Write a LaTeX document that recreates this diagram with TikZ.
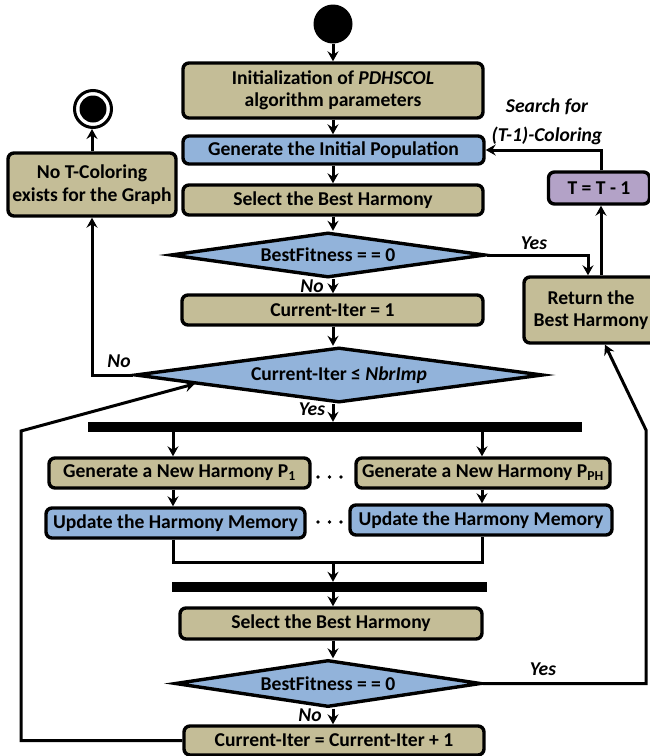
\documentclass[tikz,border=0pt]{standalone}
\usepackage{fontspec}
\setmainfont{Carlito}
\usetikzlibrary{shapes.geometric,arrows.meta,calc}
\definecolor{tanfill}{RGB}{196,189,151}
\definecolor{bluefill}{RGB}{146,179,218}
\definecolor{purplefill}{RGB}{179,162,199}
\tikzset{
  box/.style={draw=black, line width=3.4pt, rounded corners=6pt, align=center,
    font=\fontsize{19.6}{22.5}\selectfont\bfseries, inner sep=0pt},
  tanbox/.style={box, fill=tanfill},
  bluebox/.style={box, fill=bluefill},
  purplebox/.style={box, fill=purplefill},
  dia/.style={diamond, draw=black, line width=3.4pt, fill=bluefill, inner sep=0pt,
    aspect=6.8, font=\fontsize{19.6}{22.5}\selectfont\bfseries},
  arr/.style={line width=3pt, -{Stealth[length=10pt,width=11pt,inset=3.5pt]}},
  ln/.style={line width=3pt},
  lab/.style={font=\fontsize{19.6}{22.5}\selectfont\bfseries\itshape, inner sep=0pt},
  bar/.style={fill=black, draw=none, inner sep=0pt},
  startdot/.style={circle, fill=black, minimum size=39pt, inner sep=0pt},
  enddot/.style={circle, draw=black, line width=3pt, fill=white, minimum size=37pt, inner sep=0pt,
    path picture={\fill[black] (path picture bounding box.center) circle (13.5pt);}}
}
\begin{document}
\begin{tikzpicture}[x=1pt,y=-1pt]
\useasboundingbox (0,0) rectangle (650,756);
% column coordinates
\coordinate (col) at (333,0);
\coordinate (colL) at (173,0);
\coordinate (colR) at (482,0);
\coordinate (yc) at (588,0);
\coordinate (uc) at (601,0);
\coordinate (join) at (333,562);
\coordinate (lp) at (21,431);
\coordinate (rb) at (646,430);
% nodes
\node[startdot] (start) at (333,24) {};
\node[tanbox, minimum width=300, minimum height=55] (init) at (333,90.5) {Initialization of \textit{PDHSCOL}\\algorithm parameters};
\node[bluebox, minimum width=301, minimum height=28] (genpop) at (333.5,150) {Generate the Initial Population};
\node[tanbox, minimum width=300, minimum height=30] (sel1) at (333,200) {Select the Best Harmony};
\node[dia, minimum width=315, minimum height=45] (d1) at (328,255) {BestFitness = = 0};
\node[tanbox, minimum width=301, minimum height=30] (cur1) at (332.5,310) {Current-Iter = 1};
\node[dia, minimum width=408, minimum height=55] (d2) at (339,375) {Current-Iter ≤ \textit{NbrImp}};
\node[tanbox, minimum width=168, minimum height=63] (notc) at (92,184.5) {No T-Coloring\\exists for the Graph};
\node[enddot] (end) at (93,109) {};
\node[purplebox, minimum width=101, minimum height=32] (tbox) at (599,188) {T = T - 1};
\node[tanbox, minimum width=134, minimum height=66] (ret) at (591,310) {Return the\\Best Harmony};
\node[bar, minimum width=494, minimum height=10] (bar1) at (335,427) {};
\node[tanbox, minimum width=261, minimum height=30] (gp1) at (179.5,473) {Generate a New Harmony P\textsubscript{1}};
\node[tanbox, minimum width=254, minimum height=30] (gpp) at (483,473) {Generate a New Harmony P\textsubscript{PH}};
\node[bluebox, minimum width=259, minimum height=30] (up1) at (175.5,523) {Update the Harmony Memory};
\node[bluebox, minimum width=262, minimum height=30] (up2) at (481,520) {Update the Harmony Memory};
\node[bar, minimum width=315, minimum height=10] (bar2) at (329.5,587) {};
\node[tanbox, minimum width=302, minimum height=31] (sel2) at (331,623.5) {Select the Best Harmony};
\node[dia, minimum width=306, minimum height=47] (d3) at (328,683.5) {BestFitness = = 0};
\node[tanbox, minimum width=300, minimum height=29] (cur2) at (334,740.5) {Current-Iter = Current-Iter + 1};
% labels
\node[lab] (yes1) at (534,243) {Yes};
\node[lab] (no1) at (312,286) {No};
\node[lab] (no2) at (119,361) {No};
\node[lab] (yes2) at (312,409) {Yes};
\node[lab] (yes3) at (543,669) {Yes};
\node[lab] (no3) at (310,715) {No};
\node[lab] (s1) at (547,107) {Search for};
\node[lab] (s2) at (547,136) {(T-1)-Coloring};
% dots
\foreach \x in {318,329.5,341} {
  \fill (\x,477) circle (1.9);
  \fill (\x,522) circle (1.9);
}
% main column
\draw[arr] (start) -- (col |- init.north);
\draw[arr] (col |- init.south) -- (col |- genpop.north);
\draw[arr] (col |- genpop.south) -- (col |- sel1.north);
\draw[arr] (col |- sel1.south) -- (col |- d1.north);
\draw[arr] (col |- d1.south) -- (col |- cur1.north);
\draw[arr] (col |- cur1.south) -- (col |- d2.north);
\draw[arr] (col |- d2.south) -- (col |- bar1.north);
\draw[arr] (colL |- bar1.south) -- (colL |- gp1.north);
\draw[arr] (colR |- bar1.south) -- (colR |- gpp.north);
\draw[arr] (colL |- gp1.south) -- (colL |- up1.north);
\draw[arr] (colR |- gpp.south) -- (colR |- up2.north);
\draw[ln] (colL |- up1.south) -- (colL |- join) -- (colR |- join) -- (colR |- up2.south);
\draw[arr] (join) -- (col |- bar2.north);
\draw[arr] (col |- bar2.south) -- (col |- sel2.north);
\draw[arr] (col |- sel2.south) -- (col |- d3.north);
\draw[arr] (col |- d3.south) -- (col |- cur2.north);
% loop back
\draw[arr] (cur2.west) -- (cur2.west -| lp) -- (lp) -- ($(d2.west)!0.3!(d2.south)$);
% no exit
\draw[arr] (d2.west) -- (notc.south |- d2.west) -- (notc.south);
\draw[arr] (notc.north) -- (notc.north |- end.south);
% right side
\draw[arr] (d1.east) -- (yc |- d1.east) -- (yc |- ret.north);
\draw[arr] (uc |- ret.north) -- (uc |- tbox.south);
\draw[arr] (uc |- tbox.north) |- (genpop.east);
\draw[arr] (d3.east) -- (rb |- d3.east) -- (rb) -- ([xshift=14pt]ret.south);
\end{tikzpicture}
\end{document}
